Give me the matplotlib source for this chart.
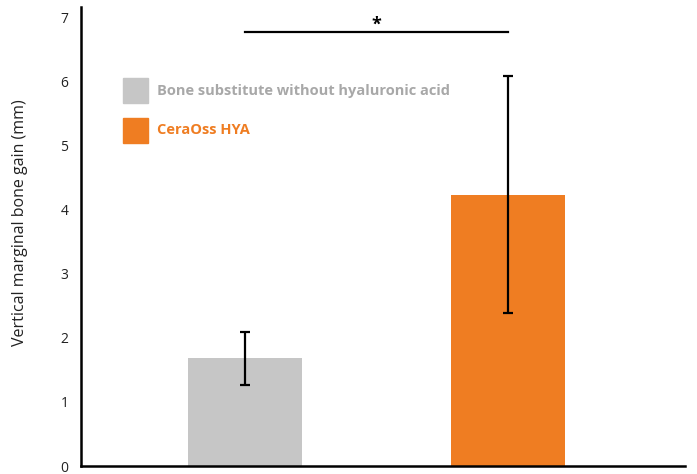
import matplotlib

matplotlib.use("Agg")
import matplotlib.pyplot as plt  # noqa: E402
from matplotlib.patches import Rectangle  # noqa: E402

groups = ["Bone substitute without hyaluronic acid", "CeraOss HYA"]
means = [1.68, 4.24]
errors = [0.42, 1.85]
bar_colors = ["#c6c6c6", "#ef7d22"]
text_colors = ["#a8a8a8", "#ef7d22"]
sig_level = 6.78
y_ticks = [0, 1, 2, 3, 4, 5, 6, 7]

plt.rcParams["font.family"] = ["Open Sans", "DejaVu Sans"]

fig = plt.figure(figsize=(6.97, 4.74), dpi=100)
ax = fig.add_axes([81 / 697, 1 - 466 / 474, (685 - 81) / 697, (466 - 7) / 474])

x = [0, 1]
ax.bar(x, means, width=0.433, color=bar_colors, zorder=2)
ax.errorbar(x, means, yerr=errors, fmt="none", ecolor="black",
            elinewidth=1.6, capsize=3.3, capthick=1.6, zorder=3)

# significance bracket
ax.plot(x, [sig_level, sig_level], color="black", linewidth=1.6)
ax.text(0.5, sig_level - 0.02, "*", ha="center", va="bottom", fontsize=13,
        fontweight="bold")

ax.set_xlim(-0.624, 1.673)
ax.set_ylim(0, 7.17)
ax.set_yticks(y_ticks)
ax.set_xticks([])
ax.tick_params(axis="y", length=0, pad=9, labelsize=10, colors="#222222")
ax.set_ylabel("Vertical marginal bone gain (mm)", fontsize=11.5, color="#222222")
ax.yaxis.set_label_coords(-0.088, 0.53)
for side in ("top", "right"):
    ax.spines[side].set_visible(False)
for side in ("left", "bottom"):
    ax.spines[side].set_linewidth(1.8)

# legend drawn manually as squares with coloured bold text
for i, (label, bc, tc) in enumerate(zip(groups, bar_colors, text_colors)):
    ytop = 78 + 40 * i
    fig.patches.append(Rectangle((123 / 697, 1 - (ytop + 25) / 474), 25 / 697, 25 / 474,
                                 transform=fig.transFigure, color=bc))
    fig.text(157 / 697, 1 - (ytop + 12.5) / 474, label, color=tc, fontsize=10.5,
             fontweight="bold", va="center", ha="left")

fig.savefig("out.png", dpi=100)
